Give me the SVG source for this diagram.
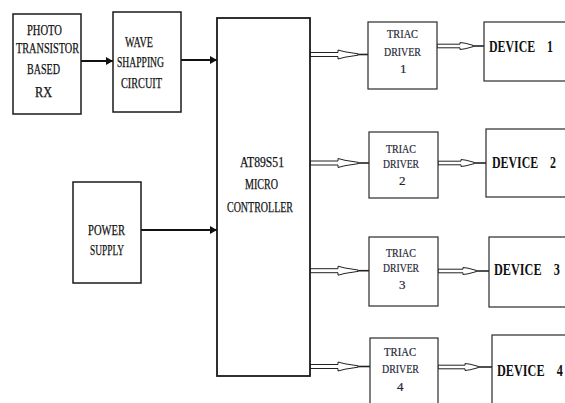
<svg xmlns="http://www.w3.org/2000/svg" width="565" height="403" viewBox="0 0 565 403">
<style>
  .box{fill:#fff;stroke:#1a1a1a;stroke-width:1.5}
  .tbox{fill:#fff;stroke:#2a2a2a;stroke-width:1.2}
  .t{font-family:"Liberation Serif","Times New Roman",serif;font-size:14px;fill:#111;stroke:#111;stroke-width:0.25}
  .tr{font-family:"Liberation Serif","Times New Roman",serif;font-size:13px;fill:#1e2433;stroke:#1e2433;stroke-width:0.2}
  .dev{font-family:"Liberation Serif","Times New Roman",serif;font-size:17px;font-weight:bold;fill:#111;white-space:pre}
  .solid{stroke:#111;stroke-width:2;fill:none}
  .hollow{stroke:#222;stroke-width:1;fill:#fff}
  .lead{stroke:#222;stroke-width:1.6;fill:none}
</style>
<defs>
  <marker id="ah" markerWidth="8" markerHeight="8" refX="7" refY="4" orient="auto" markerUnits="userSpaceOnUse">
    <path d="M0,0 L7,4 L0,8 Z" fill="#111"/>
  </marker>
</defs>
<rect width="565" height="403" fill="#fff"/>

<g id="connectors">
  <line class="solid" x1="81" y1="61" x2="113" y2="61" marker-end="url(#ah)"/>
  <line class="solid" x1="181" y1="60" x2="217" y2="60" marker-end="url(#ah)"/>
  <line class="solid" x1="141" y1="230" x2="217" y2="230" marker-end="url(#ah)"/>

  <path class="hollow" d="M310,52.5 H338 V50 L345,51.8 L358,53.8 L358,55.2 L345,57.2 L338,59 V56.5 H310 Z"/>
  <line class="lead" x1="358" y1="54.5" x2="368" y2="54.5"/>
  <path class="hollow" d="M310,161 H338 V158.5 L345,160.3 L358,162.3 L358,163.7 L345,165.7 L338,167.5 V165 H310 Z"/>
  <line class="lead" x1="358" y1="163" x2="369" y2="163"/>
  <path class="hollow" d="M310,268.7 H338 V266.2 L345,268 L358,270 L358,271.4 L345,273.4 L338,275.2 V272.7 H310 Z"/>
  <line class="lead" x1="358" y1="270.7" x2="369" y2="270.7"/>
  <path class="hollow" d="M310,364.5 H338 V362 L345,363.8 L358,365.8 L358,367.2 L345,369.2 L338,371 V368.5 H310 Z"/>
  <line class="lead" x1="358" y1="366.5" x2="370" y2="366.5"/>

  <path class="hollow" d="M437,44.2 H460 V42.5 L465,43.2 L473,45.3 L473,46.7 L465,48.8 L460,49.5 V47.8 H437 Z"/>
  <line class="lead" x1="473" y1="46" x2="484" y2="46"/>
  <path class="hollow" d="M438,161.2 H461 V159.5 L466,160.2 L474,162.3 L474,163.7 L466,165.8 L461,166.5 V164.8 H438 Z"/>
  <line class="lead" x1="474" y1="163" x2="486" y2="163"/>
  <path class="hollow" d="M438,269.2 H463 V267.5 L468,268.2 L476,270.3 L476,271.7 L468,273.8 L463,274.5 V272.8 H438 Z"/>
  <line class="lead" x1="476" y1="271" x2="489" y2="271"/>
  <path class="hollow" d="M438,365.2 H465 V363.5 L470,364.2 L478,366.3 L478,367.7 L470,369.8 L465,370.5 V368.8 H438 Z"/>
  <line class="lead" x1="478" y1="367" x2="492" y2="367"/>
</g>

<g id="photo-rx">
  <rect class="box" x="13" y="14" width="68" height="100"/>
  <text class="t" x="27" y="35" textLength="35" lengthAdjust="spacingAndGlyphs">PHOTO</text>
  <text class="t" x="16" y="53" textLength="63" lengthAdjust="spacingAndGlyphs">TRANSISTOR</text>
  <text class="t" x="27" y="74" textLength="33" lengthAdjust="spacingAndGlyphs">BASED</text>
  <text class="t" x="35" y="97" textLength="17" lengthAdjust="spacingAndGlyphs">RX</text>
</g>

<g id="wave-shaping">
  <rect class="box" x="113" y="12" width="68" height="100"/>
  <text class="t" x="125" y="47" textLength="28" lengthAdjust="spacingAndGlyphs">WAVE</text>
  <text class="t" x="117" y="67" textLength="47" lengthAdjust="spacingAndGlyphs">SHAPPING</text>
  <text class="t" x="121" y="88" textLength="41" lengthAdjust="spacingAndGlyphs">CIRCUIT</text>
</g>

<g id="power-supply">
  <rect class="box" x="73" y="182" width="68" height="101"/>
  <text class="t" x="88" y="235" textLength="37" lengthAdjust="spacingAndGlyphs">POWER</text>
  <text class="t" x="90" y="255" textLength="34" lengthAdjust="spacingAndGlyphs">SUPPLY</text>
</g>

<g id="microcontroller">
  <rect class="box" x="217" y="18" width="93" height="358" style="stroke-width:1.8"/>
  <text class="t" x="240" y="167" textLength="44" lengthAdjust="spacingAndGlyphs">AT89S51</text>
  <text class="t" x="245" y="189" textLength="33" lengthAdjust="spacingAndGlyphs">MICRO</text>
  <text class="t" x="227" y="212" textLength="66" lengthAdjust="spacingAndGlyphs">CONTROLLER</text>
</g>

<g id="triac-1">
  <rect class="tbox" x="368" y="22" width="69" height="67"/>
  <text class="tr" x="387" y="38" textLength="31" lengthAdjust="spacingAndGlyphs">TRIAC</text>
  <text class="tr" x="384" y="56" textLength="37" lengthAdjust="spacingAndGlyphs">DRIVER</text>
  <text class="tr" x="400" y="73">1</text>
</g>
<g id="triac-2">
  <rect class="tbox" x="369" y="132" width="69" height="66"/>
  <text class="tr" x="386" y="153" textLength="30" lengthAdjust="spacingAndGlyphs">TRIAC</text>
  <text class="tr" x="383" y="168" textLength="36" lengthAdjust="spacingAndGlyphs">DRIVER</text>
  <text class="tr" x="399" y="185">2</text>
</g>
<g id="triac-3">
  <rect class="tbox" x="369" y="237" width="69" height="69"/>
  <text class="tr" x="386" y="257" textLength="30" lengthAdjust="spacingAndGlyphs">TRIAC</text>
  <text class="tr" x="383" y="272" textLength="36" lengthAdjust="spacingAndGlyphs">DRIVER</text>
  <text class="tr" x="399" y="289">3</text>
</g>
<g id="triac-4">
  <rect class="tbox" x="370" y="338" width="68" height="75"/>
  <text class="tr" x="384" y="356" textLength="32" lengthAdjust="spacingAndGlyphs">TRIAC</text>
  <text class="tr" x="382" y="373" textLength="37" lengthAdjust="spacingAndGlyphs">DRIVER</text>
  <text class="tr" x="397" y="391">4</text>
</g>

<g id="device-1">
  <rect class="tbox" x="484" y="22" width="90" height="59"/>
  <text class="dev" transform="translate(489,52) scale(0.7,1)" x="0" y="0">DEVICE    1</text>
</g>
<g id="device-2">
  <rect class="tbox" x="486" y="129" width="90" height="68"/>
  <text class="dev" transform="translate(492,168) scale(0.7,1)" x="0" y="0">DEVICE    2</text>
</g>
<g id="device-3">
  <rect class="tbox" x="489" y="237" width="90" height="70"/>
  <text class="dev" transform="translate(494,275) scale(0.72,1)" x="0" y="0">DEVICE    3</text>
</g>
<g id="device-4">
  <rect class="tbox" x="492" y="335" width="90" height="80"/>
  <text class="dev" transform="translate(497,376) scale(0.72,1)" x="0" y="0">DEVICE    4</text>
</g>
</svg>
